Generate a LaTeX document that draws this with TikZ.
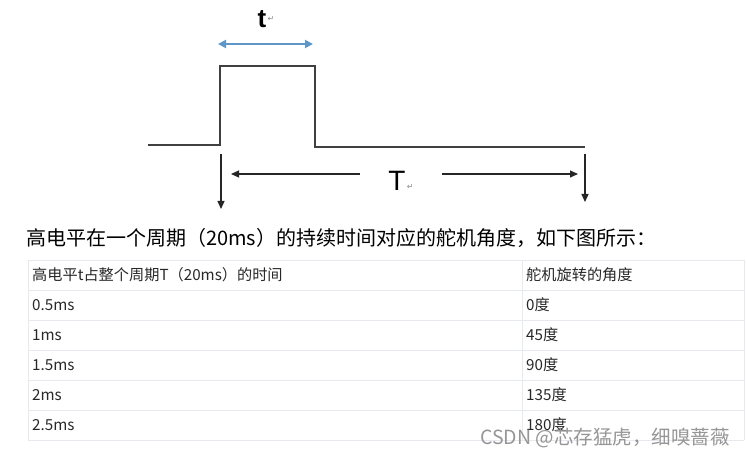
\documentclass[tikz,border=0pt]{standalone}
\usepackage{fontspec}
\setmainfont{Liberation Sans}
\newfontfamily\cjk{Noto Sans CJK SC}
\newfontfamily\dvs{DejaVu Sans}
\usetikzlibrary{arrows.meta}
\definecolor{wave}{RGB}{64,64,64}
\definecolor{tblue}{RGB}{95,150,200}
\definecolor{gridc}{RGB}{230,234,238}
\definecolor{txt}{RGB}{40,40,40}
\definecolor{wm}{RGB}{150,150,150}
\tikzset{
  waveline/.style={draw=wave,line width=1.6pt},
  arr/.style={draw=black!85,line width=1.2pt,-{Triangle[length=8pt,width=7pt]}},
  blarr/.style={draw=tblue,line width=1.8pt,{Triangle[length=8pt,width=8pt]}-{Triangle[length=8pt,width=8pt]}},
  grid/.style={draw=gridc,line width=0.8pt},
  cell/.style={anchor=west,inner sep=0pt,font=\cjk\fontsize{15.2}{17}\selectfont,text=txt},
  retm/.style={inner sep=0pt,font=\dvs\fontsize{8}{9}\selectfont,text=black!45}
}
\begin{document}
\begin{tikzpicture}[x=1pt,y=-1pt]
\useasboundingbox[fill=white] (0,0) rectangle (747,457);
% waveform
\coordinate (a0) at (148,145);
\coordinate (a1) at (220,145);
\coordinate (a2) at (220,66);
\coordinate (a3) at (315,66);
\coordinate (a4) at (315,147);
\coordinate (a5) at (585,147);
\draw[waveline] (a0) -- (a1) -- (a2) -- (a3) -- (a4) -- (a5);
% t arrow
\coordinate (b0) at (218,44);
\coordinate (b1) at (313,44);
\draw[blarr] (b0) -- (b1);
\node[inner sep=0pt,font=\bfseries\fontsize{26}{28}\selectfont] (tl) at (262,19) {t};
\node[retm,anchor=west] (tr) at ([xshift=1pt]tl.east) {↵};
% down arrows
\coordinate (d0) at (221,154);
\coordinate (d1) at (221,209);
\coordinate (e0) at (585,154);
\coordinate (e1) at (585,202);
\draw[arr] (d0) -- (d1);
\draw[arr] (e0) -- (e1);
% T arrows
\node[inner sep=0pt,font=\fontsize{28}{30}\selectfont] (TL) at (397,181) {T};
\node[retm,anchor=west] (TR) at ([xshift=1pt,yshift=-6pt]TL.east) {↵};
\coordinate (f0) at (360,174);
\coordinate (f1) at (231,174);
\coordinate (g0) at (442,174);
\coordinate (g1) at (578,174);
\draw[arr] (f0) -- (f1);
\draw[arr] (g0) -- (g1);
% sentence
\node[anchor=west,inner sep=0pt,font=\cjk\fontsize{20}{22}\selectfont,text=black] (sent) at (26,238) {高电平在一个周期（20ms）的持续时间对应的舵机角度，如下图所示：};
% table grid
\coordinate (r0l) at (28,260); \coordinate (r0r) at (744,260);
\coordinate (r1l) at (28,290); \coordinate (r1r) at (744,290);
\coordinate (r2l) at (28,320); \coordinate (r2r) at (744,320);
\coordinate (r3l) at (28,350); \coordinate (r3r) at (744,350);
\coordinate (r4l) at (28,380); \coordinate (r4r) at (744,380);
\coordinate (r5l) at (28,410); \coordinate (r5r) at (744,410);
\coordinate (r6l) at (28,440); \coordinate (r6r) at (744,440);
\coordinate (ct) at (522,260); \coordinate (cb) at (522,440);
\foreach \i in {0,...,6} {\draw[grid] (r\i l) -- (r\i r);}
\draw[grid] (r0l) -- (r6l);
\draw[grid] (r0r) -- (r6r);
\draw[grid] (ct) -- (cb);
% table text
\node[cell] (h1) at (32,275) {高电平t占整个周期T（20ms）的时间};
\node[cell] (h2) at (526,275) {舵机旋转的角度};
\node[cell] (c11) at (32,305) {0.5ms};
\node[cell] (c12) at (526,305) {0度};
\node[cell] (c21) at (32,335) {1ms};
\node[cell] (c22) at (526,335) {45度};
\node[cell] (c31) at (32,365) {1.5ms};
\node[cell] (c32) at (526,365) {90度};
\node[cell] (c41) at (32,395) {2ms};
\node[cell] (c42) at (526,395) {135度};
\node[cell] (c51) at (32,425) {2.5ms};
\node[cell] (c52) at (526,425) {180度};
% watermark
\node[anchor=west,inner sep=0pt,font=\cjk\fontsize{19.5}{21}\selectfont,text=wm] (wmk) at (480,438) {CSDN @芯存猛虎，细嗅蔷薇};
\end{tikzpicture}
\end{document}
